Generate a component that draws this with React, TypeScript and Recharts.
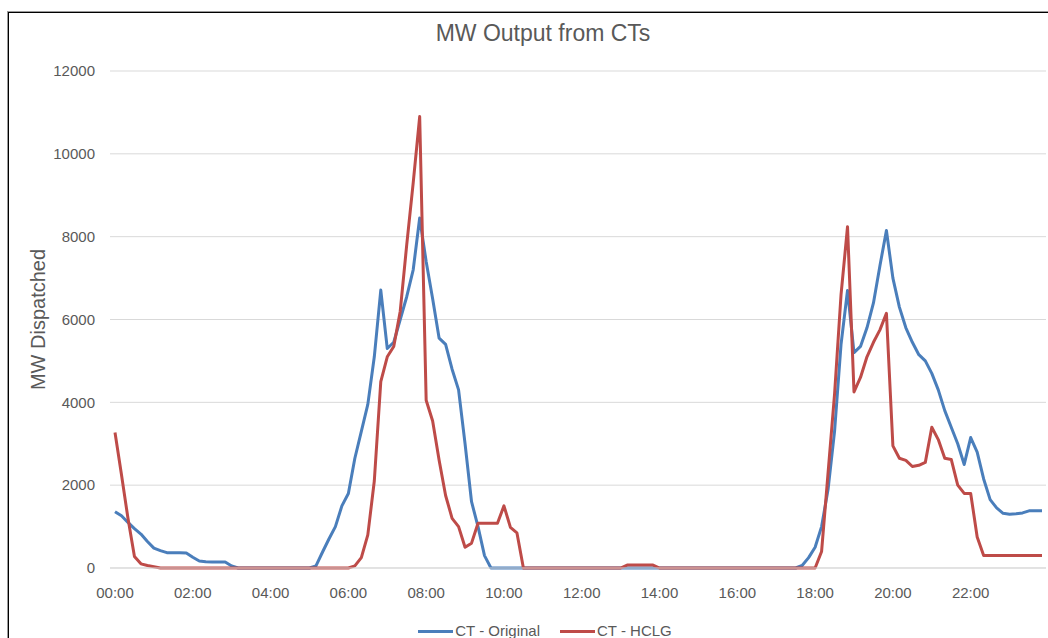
import React from 'react';
import { LineChart, Line, XAxis, YAxis, CartesianGrid, Legend } from 'recharts';

// 10-minute intervals, 00:00 .. 23:50
const times: string[] = [];
for (let h = 0; h < 24; h++) {
  for (let m = 0; m < 60; m += 10) {
    times.push(`${String(h).padStart(2, '0')}:${String(m).padStart(2, '0')}`);
  }
}

// one row = 2 hours
const ctOriginal = [
  1360, 1260, 1100, 950, 820, 640, 480, 420, 370, 370, 370, 360,
  260, 170, 150, 145, 145, 145, 50, 0, 0, 0, 0, 0,
  0, 0, 0, 0, 0, 0, 0, 50, 380, 700, 1000, 1500,
  1800, 2650, 3300, 3950, 5100, 6710, 5300, 5450, 6000, 6550, 7200, 8450,
  7400, 6500, 5550, 5400, 4800, 4300, 3000, 1600, 1000, 300, 0, 0,
  0, 0, 0, 0, 0, 0, 0, 0, 0, 0, 0, 0,
  0, 0, 0, 0, 0, 0, 0, 0, 0, 0, 0, 0,
  0, 0, 0, 0, 0, 0, 0, 0, 0, 0, 0, 0,
  0, 0, 0, 0, 0, 0, 0, 0, 0, 0, 60, 250,
  500, 1000, 1900, 3300, 5400, 6700, 5200, 5350, 5800, 6400, 7300, 8150,
  7000, 6300, 5800, 5450, 5150, 5000, 4700, 4300, 3800, 3400, 3000, 2500,
  3150, 2800, 2150, 1650, 1450, 1320, 1300, 1310, 1330, 1380, 1380, 1380,
];

const ctHclg = [
  3270, 2250, 1200, 280, 100, 60, 30, 0, 0, 0, 0, 0,
  0, 0, 0, 0, 0, 0, 0, 0, 0, 0, 0, 0,
  0, 0, 0, 0, 0, 0, 0, 0, 0, 0, 0, 0,
  0, 50, 250, 800, 2100, 4500, 5100, 5350, 6200, 7800, 9300, 10900,
  4050, 3550, 2600, 1750, 1200, 1000, 500, 600, 1080, 1080, 1080, 1080,
  1500, 980, 850, 0, 0, 0, 0, 0, 0, 0, 0, 0,
  0, 0, 0, 0, 0, 0, 0, 70, 70, 70, 70, 70,
  0, 0, 0, 0, 0, 0, 0, 0, 0, 0, 0, 0,
  0, 0, 0, 0, 0, 0, 0, 0, 0, 0, 0, 0,
  0, 400, 2300, 4200, 6600, 8240, 4250, 4600, 5100, 5450, 5750, 6150,
  2950, 2650, 2600, 2450, 2480, 2550, 3400, 3100, 2650, 2620, 2000, 1800,
  1800, 750, 300, 300, 300, 300, 300, 300, 300, 300, 300, 300,
];

const seriesNames = ['CT - Original', 'CT - HCLG'];
const yTicks = [0, 2000, 4000, 6000, 8000, 10000, 12000];

const data = times.map((t, i) => ({ time: t, original: ctOriginal[i], hclg: ctHclg[i] }));

const FONT = '"Liberation Sans", Arial, sans-serif';
const TEXT = '#595959';
const BLUE = '#4A7EBB';
const RED = '#BE4B48';

const renderLegend = (props: any) => {
  const items = [...(props.payload || [])].sort(
    (a: any, b: any) => seriesNames.indexOf(a.value) - seriesNames.indexOf(b.value)
  );
  return (
    <div style={{ display: 'flex', justifyContent: 'center', alignItems: 'center', fontFamily: FONT, fontSize: 15, color: TEXT, lineHeight: '18px' }}>
      {items.map((entry: any, i: number) => (
        <div key={entry.value} style={{ display: 'flex', alignItems: 'center', marginLeft: i ? 20 : 0 }}>
          <span style={{ display: 'inline-block', width: 35, height: 3, background: entry.color, marginRight: 2 }} />
          <span>{entry.value}</span>
        </div>
      ))}
    </div>
  );
};

export default function App() {
  return (
    <div style={{ position: 'absolute', left: 0, top: 0, width: 1048, height: 638, overflow: 'hidden', background: '#fff' }}>
      <div style={{ position: 'absolute', left: 8, top: 12, width: 1200, height: 800, borderLeft: '1px solid #000', borderTop: '1px solid #000', boxShadow: '-1px -1px 0 #9a9a9a' }} />
      <div style={{ position: 'absolute', left: 0, top: 19, width: 1086, textAlign: 'center', fontFamily: FONT, fontSize: 23, lineHeight: '28px', color: TEXT }}>
        MW Output from CTs
      </div>
      <div style={{ position: 'absolute', left: 0, top: 0 }}>
        <LineChart width={1048} height={638} data={data} margin={{ top: 71, right: 2, left: 0, bottom: 40 }}>
          <CartesianGrid vertical={false} stroke="#D9D9D9" strokeWidth={1} />
          <XAxis
            dataKey="time"
            interval={11}
            padding={{ left: 5, right: 4 }}
            tickLine={false}
            tickSize={0}
            tickMargin={19}
            axisLine={{ stroke: '#D9D9D9' }}
            height={30}
            tick={{ fill: TEXT, fontSize: 15, fontFamily: FONT }}
          />
          <YAxis
            width={110}
            domain={[0, 12000]}
            ticks={yTicks}
            interval={0}
            tickLine={false}
            axisLine={false}
            tickSize={0}
            tickMargin={15}
            tick={{ fill: TEXT, fontSize: 15, fontFamily: FONT }}
            label={{
              value: 'MW Dispatched',
              angle: -90,
              position: 'insideLeft',
              offset: 38,
              style: { textAnchor: 'middle', fill: TEXT, fontSize: 20, fontFamily: FONT },
            }}
          />
          <Legend
            verticalAlign="middle"
            align="center"
            content={renderLegend}
            wrapperStyle={{ left: 0, top: 622, width: 1090 }}
          />
          <Line
            type="linear"
            dataKey="original"
            name={seriesNames[0]}
            stroke={BLUE}
            strokeWidth={3}
            strokeLinejoin="round"
            dot={false}
            isAnimationActive={false}
          />
          <Line
            type="linear"
            dataKey="hclg"
            name={seriesNames[1]}
            stroke={RED}
            strokeWidth={3}
            strokeLinejoin="round"
            dot={false}
            isAnimationActive={false}
          />
        </LineChart>
      </div>
    </div>
  );
}
